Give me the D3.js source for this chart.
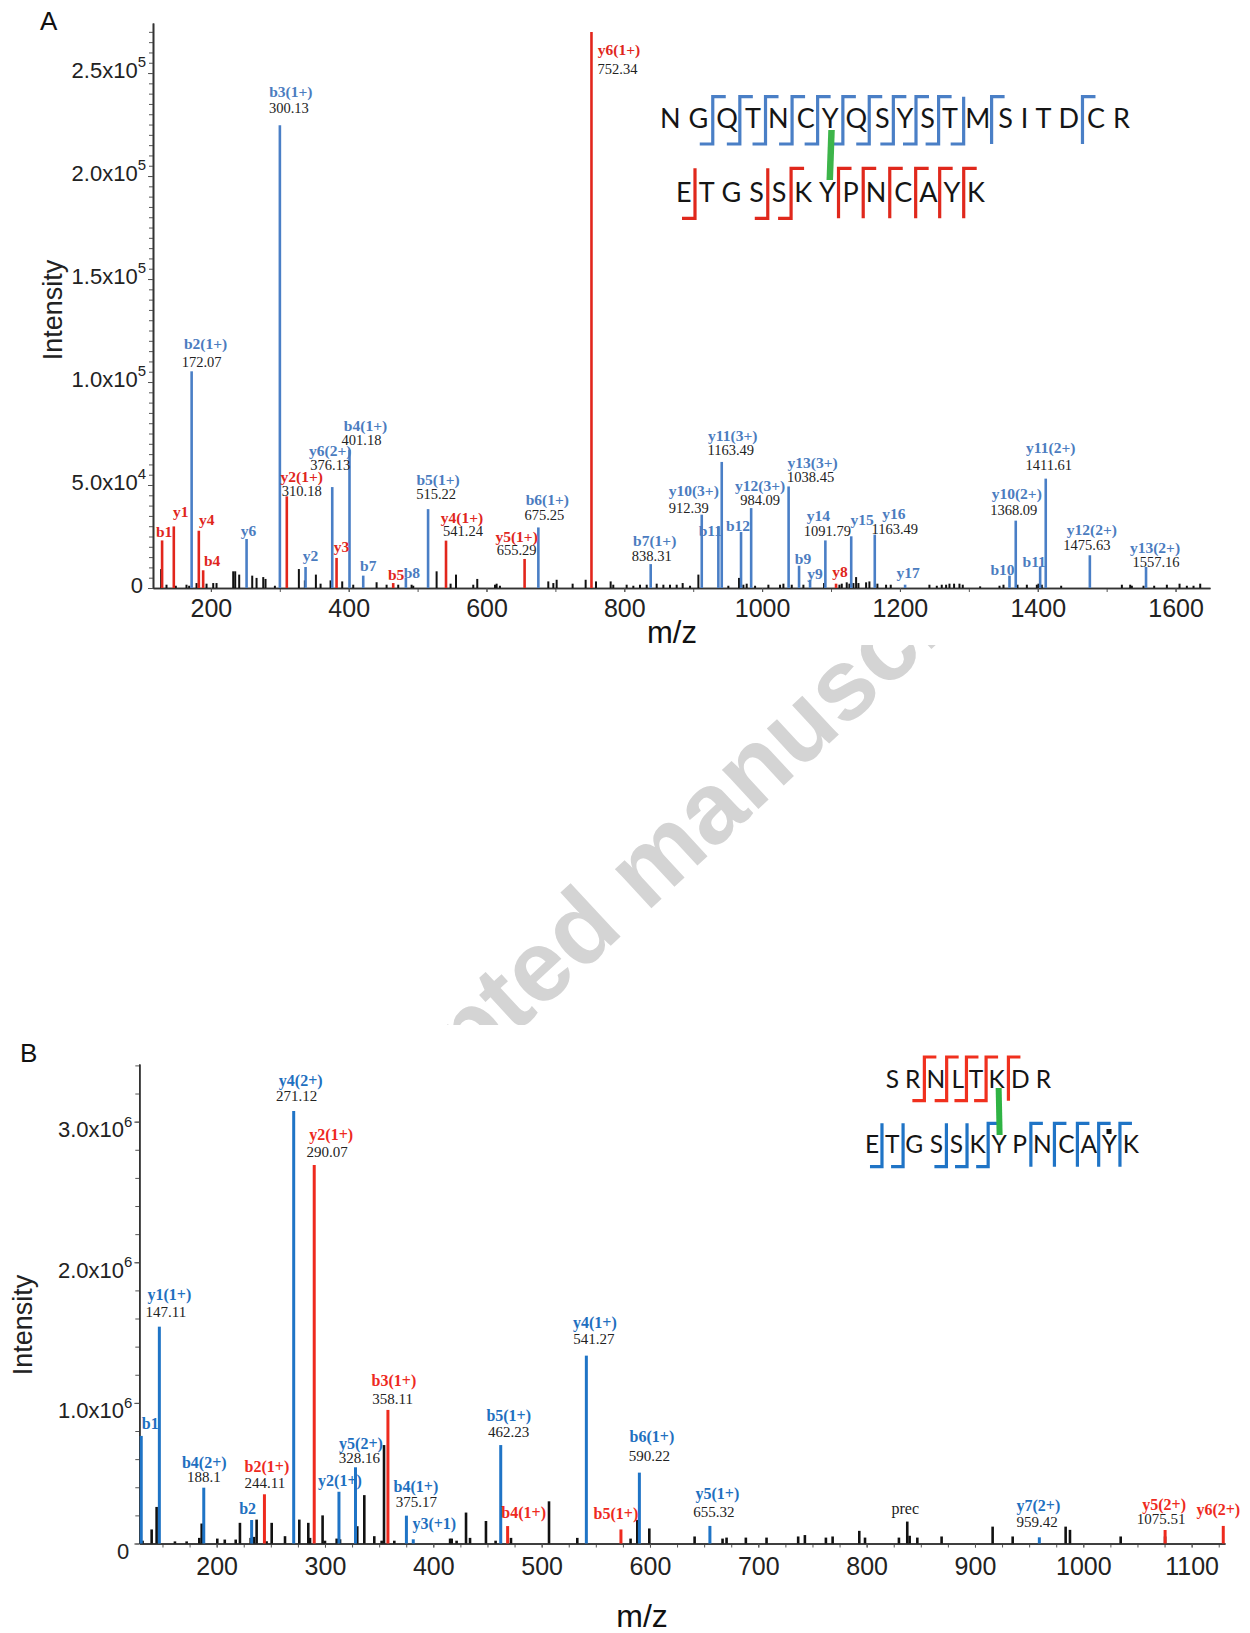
<!DOCTYPE html>
<html>
<head>
<meta charset="utf-8">
<script src="https://cdn.jsdelivr.net/npm/d3@7"></script>
<style>
  body { margin: 0; background: #fff; }
  svg { display: block; }
</style>
</head>
<body>
<svg id="fig" width="1250" height="1633"></svg>
<script>
// ---------------- Panel A: NGQTNCYQSYSTMSITDCR x ETGSSKYPNCAYK ----------------
const seqA1 = "NGQTNCYQSYSTMSITDCR";
const seqA2 = "ETGSSKYPNCAYK";
const bracketsA1 = [[1,"both"],[2,"both"],[3,"both"],[4,"both"],[5,"both"],[6,"both"],[7,"both"],[8,"both"],[9,"both"],[10,"both"],[11,"bottom"],[12,"top"],[16,"top"]];
const bracketsA2 = [[0,"bottom"],[3,"bottom"],[4,"both"],[6,"top"],[7,"top"],[8,"top"],[9,"top"],[10,"top"],[11,"top"]];

const xTicksA = [200, 400, 600, 800, 1000, 1200, 1400, 1600];
const yTicksA = [0, 50000, 100000, 150000, 200000, 250000];

// annotated fragment ions (p1 = NGQ... peptide, p2 = ETG... peptide)
const ionNamesA = ["b1","y1","y4","b4","y6","b2(1+)","b3(1+)","y2(1+)","y2","y6(2+)","y3","b4(1+)","b7","b5","b8","b5(1+)","y4(1+)","y5(1+)","b6(1+)","y6(1+)","b7(1+)","y10(3+)","b11","y11(3+)","b12","y12(3+)","y13(3+)","b9","y9","y14","y8","y15","y16","y17","b10","y10(2+)","b11","y11(2+)","y12(2+)","y13(2+)"];
const ionChainA = ["p2","p2","p2","p2","p1","p1","p1","p2","p1","p1","p2","p1","p1","p2","p1","p1","p2","p2","p1","p2","p1","p1","p1","p1","p1","p1","p1","p1","p1","p1","p2","p1","p1","p1","p1","p1","p1","p1","p1","p1"];
const ionMzA = [129.2,146.2,182.5,188.8,251.8,172.07,300.13,310.18,337.4,376.13,382.4,401.18,421.1,464.6,483.0,515.22,541.24,655.29,675.25,752.34,838.31,912.39,936.5,941.4,969.4,984.09,1038.45,1053.6,1069.6,1091.79,1107.3,1129.3,1163.49,1207.5,1359.0,1368.09,1403.5,1411.61,1475.63,1557.16];
const ionIntA = [23100,29900,27800,8600,23800,105200,224600,44500,10200,49000,14600,67100,6000,2400,4900,38300,23000,14100,29400,269900,11600,35600,29900,61200,27200,38800,49300,10800,4000,23100,2100,25100,25900,1600,6000,32700,10200,53100,15900,10200];
const ionTextA = ["","","","","","172.07","300.13","310.18","","376.13","","401.18","","","","515.22","541.24","655.29","675.25","752.34","838.31","912.39","","1163.49","","984.09","1038.45","","","1091.79","","","1163.49","","","1368.09","","1411.61","1475.63","1557.16"];

// unassigned peaks [m/z, intensity]
const otherA = [[127.8,9200],[135.6,1600],[149.1,1100],[164.6,1600],[168.5,1100],[179.2,2400],[193.7,2100],[203.4,2400],[208.2,2400],[232.4,8100],[235.3,8100],[241.1,6500],[260,6000],[266.3,4900],[276,5300],[279.3,4400],[292.9,1100],[327.7,9200],[336.4,3700],[352.4,6500],[359.2,2100],[373.7,3700],[390.6,3200],[406.6,1600],[440.5,2800],[455,1600],[471.9,1600],[491.3,1600],[493.7,1100],[527.6,8100],[547.9,2100],[555.7,6500],[580.8,1600],[586.6,4400],[612.3,1600],[614.7,2100],[619.5,1100],[689.7,3200],[697,2400],[701.8,4000],[725,2100],[743.9,4000],[758.9,3200],[780.2,3200],[784,1600],[803.4,1600],[813.1,1100],[822.8,1600],[832.5,1600],[847,2100],[856.7,1600],[866.3,1600],[876,1600],[884.7,2400],[895.4,1100],[907.5,6500],[951,1100],[966.5,4900],[972.8,1600],[977.6,2100],[989.8,1100],[1009.1,1600],[1026,1600],[1030.9,2100],[1043,1600],[1059.9,1600],[1089.9,2400],[1112.2,1600],[1115.6,2100],[1122.8,2750],[1126.7,2100],[1132.5,2400],[1136.4,5300],[1139.8,2400],[1150.9,2750],[1155.7,3200],[1167.3,2100],[1179.9,1600],[1186.7,1600],[1242.8,1600],[1253.5,1100],[1260.7,1600],[1267,1600],[1271.9,2100],[1278.6,2100],[1286.4,2100],[1291.2,1600],[1316.4,800],[1344.5,1100],[1350.3,1600],[1370.6,1600],[1384.2,1600],[1398.7,1600],[1401.1,2100],[1405.9,1600],[1434,1100],[1522.1,1600],[1534.2,1600],[1536.6,1100],[1553.5,1100],[1569,1100],[1587.4,1600],[1605.8,2100],[1616.4,1100],[1626.1,1100],[1635.8,2100]];

// label nudges in px: [name dx, name dy, value dx, value dy] relative to peak top
const nudgeA = [[2,-8],[7,-14],[8,-11],[9,-9],[2,-8],[14,-27.7,10,-9.7],[11,-33,9,-17.7],[15,-19,15,-5.5],[5,-11],[-2,-36.5,-2,-22],[5,-11],[16,-24,12,-10],[5,-10],[3,-8],[6,-5],[10,-29,8,-15],[16,-23,17,-10],[-8,-21.6,-8,-8.6],[9,-27.7,6,-12.7],[27.5,18.4,26,37],[4,-23.6,1,-8.3],[-8,-23.3,-13,-6.7],[-8,5],[11,-26.3,9,-11.6],[-3,-5.6],[9,-22.3,9,-8.3],[24,-23,22,-9],[4,-7],[5,-6],[-7,-24,2,-9],[4,-12],[11,-16.7],[19,-20.7,20,-5.7],[3,-12],[-7,-6],[1,-27,-2,-10.3],[-6,-4.6],[5,-30.7,3,-14],[2,-25,-3,-10.7],[9,-19,10,-5]];

// ---------------- Panel B: SRNLTKDR x ETGSSKYPNCAYK ----------------
const seqB1 = "SRNLTKDR";
const seqB2 = "ETGSSKYPNCAYK";
const bracketsB1 = [[1,"both"],[2,"both"],[3,"both"],[4,"both"],[5,"top"]];
const bracketsB2 = [[0,"bottom"],[1,"bottom"],[3,"bottom"],[4,"bottom"],[5,"both"],[7,"top"],[8,"top"],[9,"top"],[10,"top"],[11,"top"]];

const xTicksB = [200, 300, 400, 500, 600, 700, 800, 900, 1000, 1100];
const yTicksB = [0, 1e6, 2e6, 3e6];

// p1 = SRNLTKDR, p2 = ETGSSKYPNCAYK, none = precursor
const ionNamesB = ["b1","y1(1+)","b4(2+)","b2","b2(1+)","y4(2+)","y2(1+)","y2(1+)","y5(2+)","b3(1+)","b4(1+)","y3(+1)","b5(1+)","b4(1+)","y4(1+)","b5(1+)","b6(1+)","y5(1+)","prec","y7(2+)","y5(2+)","y6(2+)"];
const ionChainB = ["p2","p2","p2","p2","p1","p2","p1","p2","p2","p1","p2","p2","p2","p1","p2","p1","p2","p2","none","p2","p1","p1"];
const ionMzB = [130.4,147.11,188.1,232.3,244.11,271.12,290.07,312.9,328.16,358.11,375.17,381.5,462.23,468.6,541.27,573.2,590.22,655.32,837.5,959.42,1075.51,1129.2];
const ionIntB = [765000,1542000,397000,167000,350000,3076000,2692000,368000,542000,950000,198000,30000,700000,124000,1336000,100000,504000,125000,156000,44000,96000,125000];
const ionTextB = ["","147.11","188.1","","244.11","271.12","290.07","","328.16","358.11","375.17","","462.23","","541.27","","590.22","655.32","","959.42","1075.51",""];

const otherB = [[131.6,20000],[140,100000],[144.6,260000],[161.5,15000],[172.3,15000],[184,40000],[186.2,142000],[200.6,35000],[207.5,28000],[217.6,28000],[221.5,147000],[231.4,40000],[234.4,47000],[236.9,170000],[246.1,16000],[250.8,147000],[263.1,52000],[276.3,170000],[284.6,147000],[286.2,40000],[297.8,200000],[300,20000],[310.8,35000],[313.9,30000],[329.8,123000],[336.3,344000],[345.5,52000],[352.3,20000],[354.5,700000],[364,20000],[415.5,35000],[417,35000],[421.5,20000],[430.2,220000],[433.9,40000],[448.6,160000],[457.5,20000],[471.7,40000],[506.8,300000],[532.9,40000],[582.1,35000],[588.3,168000],[599.4,107000],[641.2,50000],[667,35000],[670.7,42000],[688.5,42000],[707.6,42000],[736.8,50000],[743,60000],[762.4,42000],[768.6,50000],[793.2,90000],[798.5,42000],[829.8,42000],[839.7,55000],[846.8,42000],[869.2,50000],[916.3,120000],[934.8,50000],[983.7,120000],[987.7,97000],[1034.5,50000],[1075.5,50000]];

const nudgeB = [[9,-11.7],[10,-31.7,6.5,-15],[0.5,-25,0,-10.4],[-4,-10.7],[2.5,-27.6,0.5,-11],[7,-30.3,3,-15.3],[17,-30,13,-13.3],[1,-11],[5.5,-23,4,-9],[6,-29.3,4.7,-10.7],[9.5,-29,10,-13.4],[21,-15],[8,-29,8,-13.3],[16,-13.3],[8.5,-33,7.5,-16.7],[-5,-15.3],[12.5,-35.4,10,-17],[7.5,-32,4,-14.3],[-2,-13],[-1,-31.3,-2.3,-15],[-1,-25,-4,-10.7],[-5,-16]];

// ---------------- drawing ----------------
const SANS = "'Liberation Sans', Arial, sans-serif";
const SERIF = "'Liberation Serif', 'Times New Roman', serif";
const SEQ = "Lato, 'Open Sans', sans-serif";
const svg = d3.select("#fig");

// faint "Accepted manuscript" stamp, only showing between the two panels
const defs = svg.append("defs");
defs.append("clipPath").attr("id", "between")
  .append("rect").attr("x", 0).attr("y", 645).attr("width", 1250).attr("height", 380);
svg.append("g").attr("clip-path", "url(#between)")
  .append("text")
  .attr("transform", "translate(292,1241) rotate(-42.8)")
  .attr("font-family", SANS).attr("font-weight", "bold").attr("font-size", 101)
  .attr("fill", "#d4d4d4")
  .text("Accepted manuscript");

function supLabel(sel, d, zeroShift) {
  sel.text(null);
  if (d === 0) {
    sel.attr("x", zeroShift).text("0");
    return;
  }
  const e = Math.floor(Math.log10(d));
  const m = (d / Math.pow(10, e)).toFixed(1);
  sel.append("tspan").text(m + "x10");
  sel.append("tspan").attr("font-size", "0.68em").attr("dy", "-0.7em").text(e);
}

function drawPanel(c) {
  const g = svg.append("g");
  const x = d3.scaleLinear().domain(c.xDomain).range(c.xRange);
  const y = d3.scaleLinear().domain(c.yDomain).range(c.yRange);
  const x0 = c.xRange[0], y0 = y(0);

  // axes
  g.append("g").attr("transform", `translate(${x0},0)`)
    .call(d3.axisLeft(y).tickValues(c.yMinor).tickSize(4).tickFormat("").tickSizeOuter(0));
  const ya = g.append("g").attr("transform", `translate(${x0},0)`)
    .call(d3.axisLeft(y).tickValues(c.yTicks).tickSize(5).tickPadding(2).tickSizeOuter(0));
  ya.selectAll(".tick text")
    .attr("font-family", SANS).attr("font-size", 22).attr("fill", "#222")
    .attr("dy", c.yLabelDy)
    .each(function (d) { supLabel(d3.select(this), d, -10); });

  g.append("g").attr("transform", `translate(0,${y0})`)
    .call(d3.axisBottom(x).tickValues(c.xMinor).tickSize(4).tickFormat("").tickSizeOuter(0));
  const xa = g.append("g").attr("transform", `translate(0,${y0})`)
    .call(d3.axisBottom(x).tickValues(c.xTicks).tickSize(4).tickPadding(c.xPad)
      .tickFormat(d3.format("d")).tickSizeOuter(0));
  xa.selectAll(".tick text").attr("font-family", SANS).attr("font-size", c.xFont).attr("fill", "#222");

  g.selectAll(".domain").attr("stroke", "#333").attr("stroke-width", 1.6);
  g.selectAll(".tick line").attr("stroke", "#555").attr("stroke-width", 1);

  // axis titles
  g.append("text").attr("transform", `translate(${c.yTitle[0]},${c.yTitle[1]}) rotate(-90)`)
    .attr("text-anchor", "middle").attr("dy", "0.35em")
    .attr("font-family", SANS).attr("font-size", 27).attr("fill", "#222").text("Intensity");
  g.append("text").attr("x", c.xTitle[0]).attr("y", c.xTitle[1])
    .attr("text-anchor", "middle").attr("font-family", SANS).attr("font-size", c.xTitleFont)
    .attr("fill", "#111").text("m/z");
  g.append("text").attr("x", c.tag[0]).attr("y", c.tag[1])
    .attr("font-family", SANS).attr("font-size", 26).attr("fill", "#111").text(c.tagText);

  // unassigned peaks
  g.append("g").selectAll("line").data(c.other).join("line")
    .attr("x1", d => x(d[0])).attr("x2", d => x(d[0]))
    .attr("y1", y0).attr("y2", d => y(d[1]))
    .attr("stroke", "#111").attr("stroke-width", c.blackWidth);

  // assigned peaks
  const ions = c.names.map((n, i) => ({
    name: n, chain: c.chain[i], mz: c.mz[i], v: c.inten[i], text: c.text[i], nd: c.nudge[i]
  }));
  g.append("g").selectAll("line").data(ions).join("line")
    .attr("x1", d => x(d.mz)).attr("x2", d => x(d.mz))
    .attr("y1", y0).attr("y2", d => y(d.v))
    .attr("stroke", d => c.colors[d.chain]).attr("stroke-width", d => d.chain === "none" ? c.blackWidth : c.ionWidth);

  const lab = g.append("g").attr("font-family", SERIF).attr("text-anchor", "middle");
  lab.selectAll("text.ion").data(ions).join("text").attr("class", "ion")
    .attr("x", d => x(d.mz) + d.nd[0]).attr("y", d => y(d.v) + d.nd[1] + 5)
    .attr("font-size", c.nameFont)
    .attr("font-weight", d => d.chain === "none" ? "normal" : "bold")
    .attr("fill", d => d.chain === "none" ? "#222" : c.textColors[d.chain])
    .text(d => d.name);
  lab.selectAll("text.val").data(ions.filter(d => d.text)).join("text").attr("class", "val")
    .attr("x", d => x(d.mz) + d.nd[2]).attr("y", d => y(d.v) + d.nd[3] + 5)
    .attr("font-size", c.valFont).attr("fill", "#222")
    .text(d => d.text);
  return g;
}

function drawSeq(seq, xl, xr, base, size, brackets, color, top, bot, hook) {
  const t = svg.append("text").attr("x", xl).attr("y", base)
    .attr("font-family", SEQ).attr("font-size", size).attr("fill", "#151515")
    .attr("textLength", xr - xl).attr("lengthAdjust", "spacing")
    .text(seq.split("").join(" "));
  const node = t.node();
  const centers = seq.split("").map((_, k) =>
    (node.getStartPositionOfChar(2 * k).x + node.getEndPositionOfChar(2 * k).x) / 2);
  const path = d3.path;
  svg.append("g").selectAll("path").data(brackets).join("path")
    .attr("d", ([gap, kind]) => {
      const gx = (centers[gap] + centers[gap + 1]) / 2;
      const p = path();
      if (kind === "top") { p.moveTo(gx, bot); p.lineTo(gx, top); p.lineTo(gx + hook, top); }
      else if (kind === "bottom") { p.moveTo(gx - hook, bot); p.lineTo(gx, bot); p.lineTo(gx, top); }
      else { p.moveTo(gx - hook, bot); p.lineTo(gx, bot); p.lineTo(gx, top); p.lineTo(gx + hook, top); }
      return p.toString();
    })
    .attr("fill", "none").attr("stroke", color).attr("stroke-width", 3.2).attr("stroke-linejoin", "miter");
  return centers;
}

// Panel A
drawPanel({
  xDomain: [116, 1650], xRange: [153, 1210],
  yDomain: [0, 274300], yRange: [588, 23],
  xTicks: xTicksA, xMinor: d3.range(200, 1650, 100),
  yTicks: yTicksA, yMinor: d3.range(0, 274000, 5000),
  yLabelDy: "0.2em", xPad: 7, xFont: 25,
  yTitle: [53, 310], xTitle: [672, 643], xTitleFont: 31,
  tag: [40, 30], tagText: "A",
  other: otherA, names: ionNamesA, chain: ionChainA, mz: ionMzA, inten: ionIntA, text: ionTextA, nudge: nudgeA,
  colors: { p1: "#4a7fc6", p2: "#e2261c", none: "#111" },
  textColors: { p1: "#4b7cbf", p2: "#e0261c" },
  ionWidth: 2.6, blackWidth: 2, nameFont: 15.5, valFont: 14.5
});
const a1 = drawSeq(seqA1, 660, 1130, 128.3, 27, bracketsA1, "#4a7fc6", 96.7, 144, 13);
const a2 = drawSeq(seqA2, 676, 985, 201.7, 27, bracketsA2, "#e0281c", 168.3, 218.3, 13);
svg.append("line").attr("x1", a1[6] + 2).attr("y1", 130).attr("x2", a2[6] + 3).attr("y2", 180)
  .attr("stroke", "#3db54a").attr("stroke-width", 6.5);

// Panel B
drawPanel({
  xDomain: [128.6, 1130.8], xRange: [139.3, 1225],
  yDomain: [0, 3410000], yRange: [1543.5, 1064],
  xTicks: xTicksB, xMinor: d3.range(150, 1131, 25),
  yTicks: yTicksB, yMinor: d3.range(0, 3410000, 200000),
  yLabelDy: "0.68em", xPad: 10, xFont: 25,
  yTitle: [22.5, 1325], xTitle: [642, 1627], xTitleFont: 32,
  tag: [20, 1062], tagText: "B",
  other: otherB, names: ionNamesB, chain: ionChainB, mz: ionMzB, inten: ionIntB, text: ionTextB, nudge: nudgeB,
  colors: { p1: "#ee2a1e", p2: "#1f74c6", none: "#111" },
  textColors: { p1: "#ee2a1e", p2: "#1f70c0" },
  ionWidth: 3, blackWidth: 2.6, nameFont: 16, valFont: 15
});
const b1 = drawSeq(seqB1, 885.7, 1051, 1088.3, 24.5, bracketsB1, "#f0301e", 1057, 1100.7, 12);
const b2 = drawSeq(seqB2, 865, 1139, 1153.3, 24.5, bracketsB2, "#1f74c6", 1123.3, 1166.7, 12);
svg.append("line").attr("x1", b1[5] + 2).attr("y1", 1088).attr("x2", b2[6] + 1).attr("y2", 1135)
  .attr("stroke", "#2fb344").attr("stroke-width", 6);
svg.append("rect").attr("x", b2[11] - 2.5).attr("y", 1129).attr("width", 5).attr("height", 5).attr("fill", "#111");
</script>
</body>
</html>
